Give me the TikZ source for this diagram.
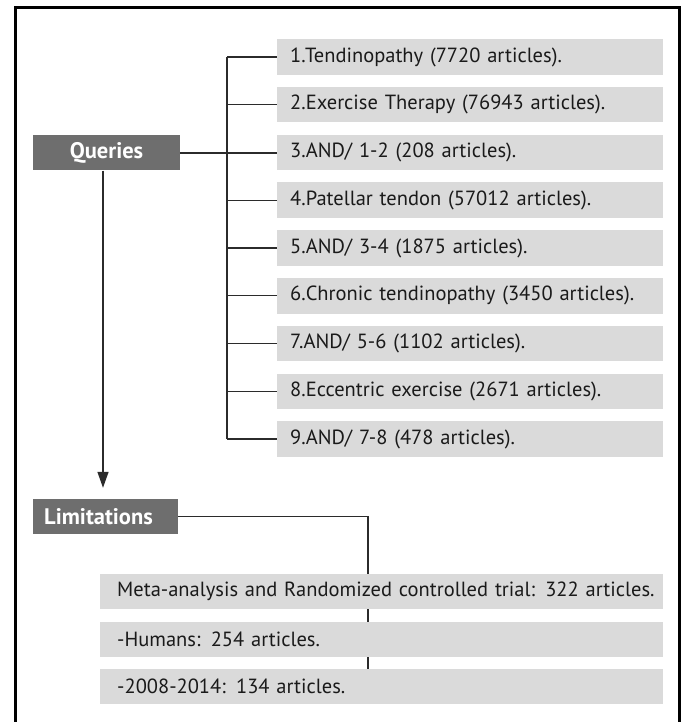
\documentclass[tikz,border=0pt]{standalone}
\usepackage{fontspec}
\setmainfont{PT Sans}[WordSpace=0.7]
\usetikzlibrary{arrows.meta}
\definecolor{darkbox}{HTML}{6E6E6E}
\definecolor{lightbox}{HTML}{DADADA}
\definecolor{linecol}{HTML}{2B2B2B}
\definecolor{txt}{HTML}{1A1A1A}
\begin{document}
\begin{tikzpicture}[x=1pt,y=-1pt,
  headbox/.style={fill=darkbox,text=white,font=\fontsize{22.5}{26}\selectfont\bfseries,minimum width=#1,minimum height=35pt,inner sep=0pt},
  qbox/.style={fill=lightbox,text=txt,font=\fontsize{20.5}{24}\selectfont,text width=360pt,inner xsep=13pt,inner ysep=0pt,minimum height=35.5pt,align=left,anchor=west},
  lbox/.style={fill=lightbox,text=txt,font=\fontsize{20.5}{24}\selectfont,text width=529pt,inner xsep=17pt,inner ysep=0pt,minimum height=35.5pt,align=left,anchor=west},
  conn/.style={draw=linecol,line width=1.4pt},
]
\useasboundingbox (0,0) rectangle (683,722);
\fill[white] (0,0) rectangle (683,722);
\draw[line width=3pt,black] (15,722) -- (15,7.5) -- (679,7.5) -- (679,722);

\node[headbox=147pt] (Q) at (106.5,153) {Queries};
\node[headbox=145pt] (L) at (105.5,516.5) {\hspace*{-14pt}Limitations};

\foreach \i/\t in {1/{1.Tendinopathy (7720 articles).},
                   2/{2.Exercise Therapy (76943 articles).},
                   3/{3.AND/ 1-2 (208 articles).},
                   4/{4.Patellar tendon (57012 articles).},
                   5/{5.AND/ 3-4 (1875 articles).},
                   6/{6.Chronic tendinopathy (3450 articles).},
                   7/{7.AND/ 5-6 (1102 articles).},
                   8/{8.Eccentric exercise (2671 articles).},
                   9/{9.AND/ 7-8 (478 articles).}}
  \node[qbox] (b\i) at (277,{57+47.75*(\i-1)}) {\mbox{\t}};

\coordinate (trunk) at (227,0);
\draw[conn] (b1.west -| trunk) -- (b9.west -| trunk);
\foreach \i in {1,...,9}
  \draw[conn] (b\i.west -| trunk) -- (b\i.west);
\draw[conn] (Q.east) -- (Q.east -| b3.west);

\coordinate (ax) at (103,0);
\draw[conn,-{Triangle[width=11pt,length=16pt]}] (Q.south -| ax) -- ([yshift=11pt]L.north -| ax);

\coordinate (lend) at (368,687);
\draw[conn] (L.east) -| (lend);

\node[lbox] (m1) at (100,591.5) {\mbox{Meta-analysis and Randomized controlled trial: 322 articles.}};
\node[lbox] (m2) at (100,639.5) {\mbox{-Humans: 254 articles.}};
\node[lbox] (m3) at (100,686.5) {\mbox{-2008-2014: 134 articles.}};
\end{tikzpicture}
\end{document}
